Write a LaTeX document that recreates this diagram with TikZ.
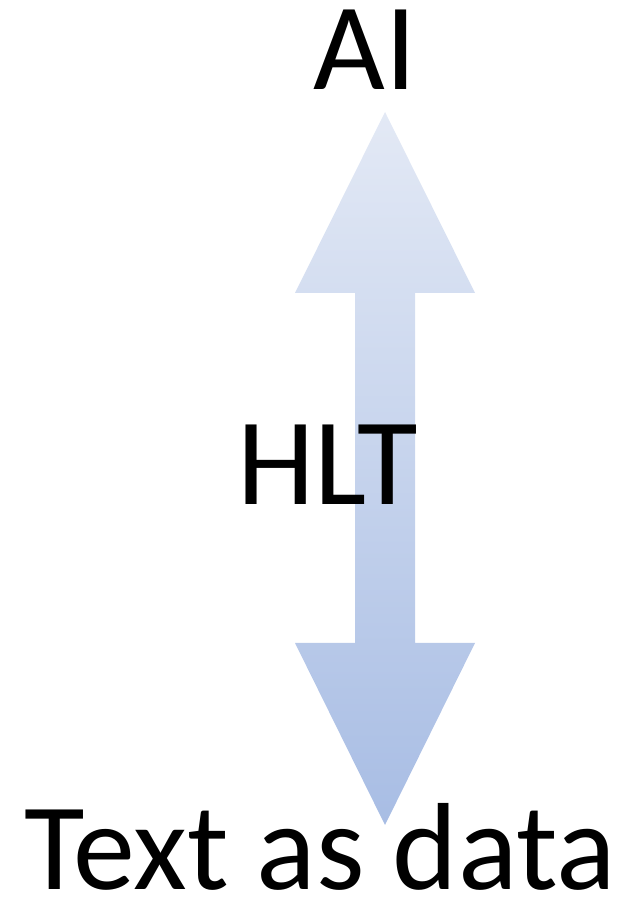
\documentclass[tikz,border=0pt]{standalone}
\usepackage{fontspec}
\setmainfont{Carlito}
\begin{document}
\begin{tikzpicture}[x=1pt,y=1pt,
  lbl/.style={inner sep=0pt,anchor=base,font=\fontsize{124}{124}\selectfont}]
\useasboundingbox (0,0) rectangle (625,897);
\definecolor{topc}{HTML}{E3E9F5}
\definecolor{botc}{HTML}{A8BDE4}
\shade[top color=topc,bottom color=botc]
  (385,785) -- (475,604) -- (415,604) -- (415,254) -- (475,254) -- (385,72)
  -- (295,254) -- (355,254) -- (355,604) -- (295,604) -- cycle;
\node[lbl] (ai) at (365,807) {AI};
\node[lbl] (hlt) at (328,392) {HLT};
\node[lbl] (tad) at (320,7) {Text as data};
\end{tikzpicture}
\end{document}
